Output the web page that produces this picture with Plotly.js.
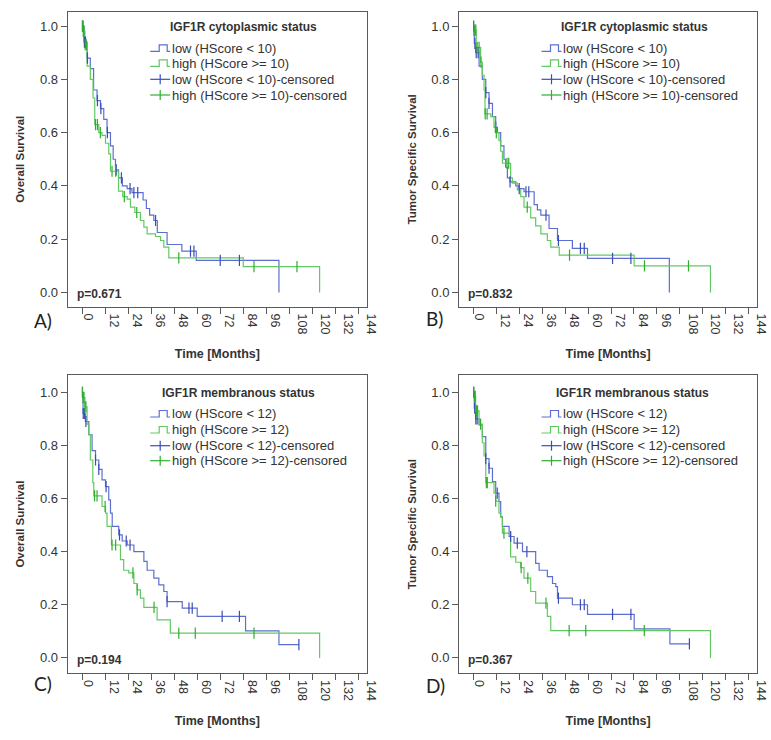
<!DOCTYPE html>
<html>
<head>
<meta charset="utf-8">
<script src="https://cdn.plot.ly/plotly-3.0.1.min.js"></script>
<style>
html,body{margin:0;padding:0;background:#fff;}
#chart{width:771px;height:740px;}
</style>
</head>
<body>
<div id="chart"></div>
<script>
// ---------------- DATA ----------------
var xTicks = [0, 12, 24, 36, 48, 60, 72, 84, 96, 108, 120, 132, 144];
var yTicks = [0.0, 0.2, 0.4, 0.6, 0.8, 1.0];

var panelLetters = ["A)", "B)", "C)", "D)"];
var yTitles = ["Overall Survival", "Tumor Specific Survival", "Overall Survival", "Tumor Specific Survival"];
var xTitle = "Time [Months]";
var legendTitles = ["IGF1R cytoplasmic status", "IGF1R cytoplasmic status", "IGF1R membranous status", "IGF1R membranous status"];
var legendLabels = [
  ["low (HScore < 10)", "high (HScore >= 10)", "low (HScore < 10)-censored", "high (HScore >= 10)-censored"],
  ["low (HScore < 10)", "high (HScore >= 10)", "low (HScore < 10)-censored", "high (HScore >= 10)-censored"],
  ["low (HScore < 12)", "high (HScore >= 12)", "low (HScore < 12)-censored", "high (HScore >= 12)-censored"],
  ["low (HScore < 12)", "high (HScore >= 12)", "low (HScore < 12)-censored", "high (HScore >= 12)-censored"]
];
var pValues = ["p=0.671", "p=0.832", "p=0.194", "p=0.367"];

// Panel A: overall survival, cytoplasmic
var aLowTime = [0, 1, 2.6, 4.3, 6, 7.8, 9.6, 11.3, 13, 14.8, 16.2, 17.4, 19, 21, 23.5, 26, 31.8, 33.5, 35.2, 37.4, 39.2, 44.3, 52, 59.5, 102.6];
var aLowSurv = [1.0, 0.94, 0.88, 0.84, 0.76, 0.72, 0.69, 0.65, 0.60, 0.55, 0.50, 0.46, 0.43, 0.40, 0.39, 0.375, 0.347, 0.315, 0.29, 0.27, 0.225, 0.18, 0.155, 0.12, 0.0];
var aLowCens = [0.2, 0.5, 1.2, 1.8, 2.8, 8, 9.8, 13.2, 17.8, 20.5, 25, 27, 29, 38.3, 56.5, 58.3, 72, 82];
var aHighTime = [0, 0.3, 1.5, 2.6, 4.3, 5.7, 6.6, 8.7, 10.4, 12.2, 13.9, 14.8, 19, 21.2, 23.5, 25.2, 27.5, 30.4, 32.2, 33.9, 38.3, 40.9, 42.6, 45.2, 84, 123.8];
var aHighSurv = [1.0, 0.98, 0.93, 0.85, 0.80, 0.73, 0.63, 0.60, 0.59, 0.56, 0.52, 0.455, 0.38, 0.36, 0.35, 0.32, 0.30, 0.27, 0.245, 0.22, 0.21, 0.195, 0.17, 0.13, 0.097, 0.0];
var aHighCens = [0.2, 0.6, 1, 1.6, 2.2, 7, 8, 9.5, 15.6, 17.5, 22, 28.5, 50.4, 89.6, 112];

// Panel B: tumor specific survival, cytoplasmic
var bLowTime = [0, 0.5, 1.2, 3, 4.7, 6.5, 8.2, 10, 11.7, 12.6, 14.3, 16, 16.9, 17.8, 19.2, 22.2, 23.9, 26.5, 31.8, 33.5, 35.3, 39.6, 44, 51.8, 59.7, 102.5];
var bLowSurv = [1.0, 0.935, 0.90, 0.85, 0.80, 0.75, 0.71, 0.66, 0.62, 0.60, 0.55, 0.50, 0.47, 0.43, 0.415, 0.40, 0.39, 0.378, 0.33, 0.31, 0.29, 0.24, 0.195, 0.165, 0.128, 0.0];
var bLowCens = [0.2, 0.8, 1.5, 2.5, 6.5, 8.2, 11.7, 19.2, 24, 27.5, 29, 38, 44.5, 56, 58, 72.8, 82.4];
var bHighTime = [0, 0.3, 1.5, 3.8, 4.7, 5.6, 6.1, 9.1, 10.8, 11.7, 13.4, 14.3, 15.2, 19.5, 20.4, 23, 24.8, 26.5, 30, 32.6, 35.3, 38.7, 40.5, 44.9, 84.1, 124];
var bHighSurv = [1.0, 0.985, 0.92, 0.865, 0.815, 0.76, 0.67, 0.66, 0.62, 0.60, 0.57, 0.53, 0.485, 0.43, 0.41, 0.385, 0.36, 0.32, 0.28, 0.25, 0.22, 0.195, 0.17, 0.14, 0.10, 0.0];
var bHighCens = [0.3, 0.8, 1.3, 2, 3, 4, 6.2, 7.2, 11.5, 12, 17.6, 18.5, 28.2, 50.3, 89.5, 112.5];

// Panel C: overall survival, membranous
var cLowTime = [0, 0.5, 1.7, 3.5, 5.2, 7, 8.7, 10.4, 12.2, 13.9, 14.8, 15.7, 19.1, 20.9, 23.5, 27, 32.2, 33.9, 37.4, 40, 42.6, 44.3, 52.2, 60, 85.2, 102.6, 113];
var cLowSurv = [1.0, 0.92, 0.89, 0.84, 0.78, 0.745, 0.71, 0.67, 0.645, 0.595, 0.545, 0.495, 0.463, 0.44, 0.425, 0.40, 0.363, 0.33, 0.30, 0.275, 0.25, 0.212, 0.187, 0.156, 0.102, 0.05, 0.05];
var cLowCens = [0.2, 0.6, 1.2, 2, 7, 8.7, 12.5, 19.5, 23, 25, 44.3, 55.7, 57.4, 73, 82, 113];
var cHighTime = [0, 0.3, 1.5, 2.6, 3.5, 4.3, 5.6, 6.1, 10.4, 12.2, 13, 15.3, 20, 21.7, 24.3, 27, 28.7, 30.4, 32.2, 39.1, 46, 123.8];
var cHighSurv = [1.0, 0.98, 0.945, 0.88, 0.84, 0.745, 0.66, 0.61, 0.57, 0.545, 0.495, 0.425, 0.37, 0.33, 0.32, 0.28, 0.256, 0.225, 0.19, 0.143, 0.093, 0.0];
var cHighCens = [0.2, 0.5, 1, 1.5, 2, 6.5, 7.8, 12, 15.6, 17.5, 26.5, 28.7, 37.5, 50.4, 59, 89.6];

// Panel D: tumor specific survival, membranous
var dLowTime = [0, 0.5, 1.2, 3, 4.7, 6.5, 8.2, 10, 11.7, 13.4, 14.3, 15.2, 18.7, 21.3, 25.7, 32.6, 34.4, 38.7, 41.4, 43.1, 44, 51.8, 59.7, 84.1, 102.8, 113];
var dLowSurv = [1.0, 0.94, 0.90, 0.877, 0.833, 0.75, 0.714, 0.664, 0.62, 0.588, 0.532, 0.495, 0.457, 0.432, 0.40, 0.356, 0.33, 0.306, 0.28, 0.268, 0.225, 0.2, 0.164, 0.109, 0.053, 0.053];
var dLowCens = [0.2, 0.7, 1.3, 2, 6.5, 8.2, 12.5, 19.5, 23, 28, 44.5, 56, 58, 72.8, 82.4, 113];
var dHighTime = [0, 0.3, 1.2, 3, 4.7, 5.6, 6.5, 10.8, 11.7, 13.4, 14.3, 15.2, 19.5, 22.2, 24.8, 26.5, 30, 32.6, 38.7, 40.5, 124];
var dHighSurv = [1.0, 0.985, 0.93, 0.88, 0.81, 0.76, 0.66, 0.62, 0.59, 0.545, 0.53, 0.47, 0.38, 0.36, 0.34, 0.30, 0.25, 0.206, 0.156, 0.103, 0.0];
var dHighCens = [0.2, 0.6, 1, 1.6, 2.2, 3.8, 6.8, 7.3, 11.7, 16, 25, 28.5, 38, 50.1, 58.8, 89.4];

// ---------------- STYLE ----------------
var W = 771, H = 740;
var lowLine = "#5c6fd0", highLine = "#62c962";
var lowCensor = "#3a4db8", highCensor = "#2eae2e";
var frameColor = "#5a5a5a";
var textColor = "#333333";
var baseFont = "Liberation Sans, Arial, sans-serif";

// panel frames in pixels [left, top, right, bottom]
var frames = [
  [67.7, 11.7, 367, 306.8],
  [459, 11.7, 757.3, 306.8],
  [67.7, 375, 367, 673.3],
  [459, 375, 757.3, 673.3]
];
var yRanges = [[-0.054, 1.054], [-0.054, 1.054], [-0.058, 1.065], [-0.058, 1.065]];
var legendTitleDx = [175.3, 175.5, 170.6, 173.5];
var legendTitleDy = [15.3, 15.3, 18.3, 18.3];
var legendRowDy = [[36.6, 51.6, 67.6, 83.3], [36.6, 51.6, 67.6, 83.3], [39, 55, 70.7, 85.7], [39, 55, 70.7, 85.7]];
var letterPos = [[32, 320], [424, 318], [32, 683], [424, 685]];

function px(x) { return x / W; }
function py(y) { return 1 - y / H; }

function stepAt(ts, ss, t) {
  var v = ss[0];
  for (var i = 0; i < ts.length; i++) { if (ts[i] <= t) v = ss[i]; }
  return v;
}

var panels = [
  [aLowTime, aLowSurv, aLowCens, aHighTime, aHighSurv, aHighCens],
  [bLowTime, bLowSurv, bLowCens, bHighTime, bHighSurv, bHighCens],
  [cLowTime, cLowSurv, cLowCens, cHighTime, cHighSurv, cHighCens],
  [dLowTime, dLowSurv, dLowCens, dHighTime, dHighSurv, dHighCens]
];

var traces = [];
var layout = {
  width: W, height: H,
  margin: {l: 0, r: 0, t: 0, b: 0},
  paper_bgcolor: "#ffffff",
  plot_bgcolor: "#ffffff",
  showlegend: false,
  hovermode: false,
  dragmode: false,
  font: {family: baseFont, color: textColor, size: 13},
  annotations: [],
  shapes: []
};

panels.forEach(function (p, k) {
  var sfx = k === 0 ? "" : String(k + 1);
  var xa = "x" + sfx, ya = "y" + sfx;
  var names = legendLabels[k];
  traces.push({x: p[0], y: p[1], xaxis: xa, yaxis: ya, mode: "lines", line: {shape: "hv", color: lowLine, width: 1.2}, name: names[0], hoverinfo: "skip"});
  traces.push({x: p[3], y: p[4], xaxis: xa, yaxis: ya, mode: "lines", line: {shape: "hv", color: highLine, width: 1.2}, name: names[1], hoverinfo: "skip"});
  traces.push({x: p[2], y: p[2].map(function (t) { return stepAt(p[0], p[1], t); }), xaxis: xa, yaxis: ya, mode: "markers",
    marker: {symbol: "line-ns-open", size: 8, color: lowCensor, line: {color: lowCensor, width: 1.2}}, name: names[2], hoverinfo: "skip"});
  traces.push({x: p[5], y: p[5].map(function (t) { return stepAt(p[3], p[4], t); }), xaxis: xa, yaxis: ya, mode: "markers",
    marker: {symbol: "line-ns-open", size: 8, color: highCensor, line: {color: highCensor, width: 1.2}}, name: names[3], hoverinfo: "skip"});

  var f = frames[k];
  layout["xaxis" + sfx] = {
    domain: [px(f[0]), px(f[2])], anchor: ya,
    range: [-7.5, 148.5], tickmode: "array", tickvals: xTicks, ticktext: xTicks.map(String),
    tickangle: 90,
    ticks: "outside", ticklen: 6, tickcolor: frameColor, tickwidth: 1,
    showline: true, linecolor: frameColor, linewidth: 1, mirror: true,
    showgrid: false, zeroline: false, fixedrange: true,
    tickfont: {family: baseFont, size: 12.5, color: textColor},
    title: {text: "<b>" + xTitle + "</b>", font: {family: baseFont, size: 12.5, color: textColor}, standoff: 13}
  };
  layout["yaxis" + sfx] = {
    domain: [py(f[3]), py(f[1])], anchor: xa,
    range: yRanges[k], tickmode: "array", tickvals: yTicks, ticktext: yTicks.map(function (v) { return v.toFixed(1); }),
    ticks: "outside", ticklen: 6, tickcolor: frameColor, tickwidth: 1,
    showline: true, linecolor: frameColor, linewidth: 1, mirror: true,
    showgrid: false, zeroline: false, fixedrange: true,
    tickfont: {family: baseFont, size: 13, color: textColor},
    title: {text: "<b>" + yTitles[k] + "</b>", font: {family: baseFont, size: 11.5, color: textColor}, standoff: 12}
  };

  // legend title
  layout.annotations.push({xref: "paper", yref: "paper", x: px(f[0] + legendTitleDx[k]), y: py(f[1] + legendTitleDy[k]),
    xanchor: "center", yanchor: "middle", showarrow: false, text: "<b>" + legendTitles[k] + "</b>",
    font: {family: baseFont, size: 12, color: textColor}});
  var colors = [lowLine, highLine, lowCensor, highCensor];
  for (var i = 0; i < 4; i++) {
    var yy = f[1] + legendRowDy[k][i];
    layout.annotations.push({xref: "paper", yref: "paper", x: px(f[0] + 102), y: py(yy),
      xanchor: "left", yanchor: "middle", showarrow: false, text: names[i],
      font: {family: baseFont, size: 13, color: textColor}});
    var x0 = f[0] + 82.5, x1 = f[0] + 102.5;
    if (i < 2) {
      var path = "M" + px(x0) + "," + py(yy + 3) + " H" + px(x0 + 9) + " V" + py(yy - 3.5) + " H" + px(x0 + 17) + " V" + py(yy + 3) + " H" + px(x1);
      layout.shapes.push({type: "path", xref: "paper", yref: "paper", path: path, line: {color: colors[i], width: 1.2}});
    } else {
      layout.shapes.push({type: "line", xref: "paper", yref: "paper", x0: px(x0), x1: px(x1), y0: py(yy), y1: py(yy), line: {color: colors[i], width: 1.2}});
      layout.shapes.push({type: "line", xref: "paper", yref: "paper", x0: px(x0 + 10), x1: px(x0 + 10), y0: py(yy - 5), y1: py(yy + 5), line: {color: colors[i], width: 1.2}});
    }
  }
  // p-value
  layout.annotations.push({xref: "paper", yref: "paper", x: px(f[0] + 7), y: py(f[3] - 13),
    xanchor: "left", yanchor: "middle", showarrow: false, text: "<b>" + pValues[k] + "</b>",
    font: {family: baseFont, size: 12, color: textColor}});
  // panel letter
  layout.annotations.push({xref: "paper", yref: "paper", x: px(letterPos[k][0]), y: py(letterPos[k][1]),
    xanchor: "left", yanchor: "middle", showarrow: false, text: panelLetters[k],
    font: {family: "Lato, Carlito, sans-serif", size: 19, color: "#222222"}});
});

// Turn the x tick labels 90 degrees (reading downward), as in the reference
function rotateXLabels() {
  var nodes = document.querySelectorAll(".xtick text, .x2tick text, .x3tick text, .x4tick text");
  Array.prototype.forEach.call(nodes, function (t) {
    var tf = t.getAttribute("transform") || "";
    if (t.getAttribute("data-rot") === tf && tf !== "") return;
    var m = tf.match(/translate\([^)]*\)/);
    var base = m ? m[0] : "";
    t.setAttribute("transform", base);
    var b;
    try { b = t.getBBox(); } catch (e) { t.setAttribute("transform", tf); return; }
    if (!b || !b.width) { t.setAttribute("transform", tf); return; }
    var cx = b.x + b.width / 2, cy = b.y + b.height / 2;
    var shift = (b.y + b.width / 2) - cy + 2;
    var ntf = base + " translate(0," + shift + ") rotate(90," + cx + "," + cy + ")";
    t.setAttribute("transform", ntf);
    t.setAttribute("data-rot", ntf);
  });
}

Plotly.newPlot("chart", traces, layout, {displayModeBar: false, scrollZoom: false}).then(function (gd) {
  rotateXLabels();
  gd.on("plotly_afterplot", rotateXLabels);
  setTimeout(rotateXLabels, 30);
  setTimeout(rotateXLabels, 200);
});
</script>
</body>
</html>
